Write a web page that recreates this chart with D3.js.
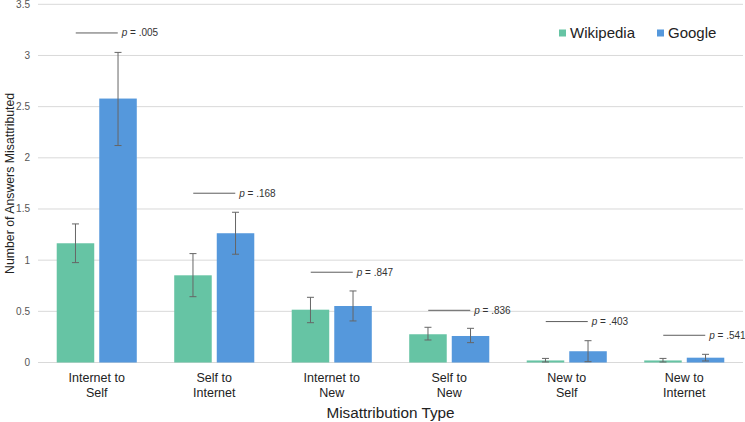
<!DOCTYPE html>
<html lang="en">
<head>
<meta charset="UTF-8">
<title>Misattribution by Type</title>
<script src="https://cdnjs.cloudflare.com/ajax/libs/d3/7.8.5/d3.min.js"></script>
<style>
    body { margin: 0; background: #fff; }
    svg { display: block; font-family: 'Liberation Sans', Arial, Helvetica, sans-serif; }
    .grid line { stroke: #d9d9d9; stroke-width: 1; }
    .tick-label { font-size: 10px; fill: #555; }
    .cat-label { font-size: 12.5px; fill: #222; }
    .err { stroke: #666; stroke-width: 1; }
    .pline { stroke: #333; stroke-width: 0.8; }
    .ptext { font-size: 10px; fill: #333; }
</style>
</head>
<body>
<svg id="chart" width="745" height="422"></svg>
<script>
    // categories (two-line labels)
    const categories = [
        ['Internet to', 'Self'],
        ['Self to', 'Internet'],
        ['Internet to', 'New'],
        ['Self to', 'New'],
        ['New to', 'Self'],
        ['New to', 'Internet']
    ];
    const seriesNames = ['Wikipedia', 'Google'];
    const seriesColors = ['#66c4a4', '#5598dc'];

    const wikipedia    = [1.165, 0.852, 0.516, 0.276, 0.02, 0.02];
    const wikipediaLo  = [0.976, 0.643, 0.389, 0.220, 0.005, 0.005];
    const wikipediaHi  = [1.354, 1.064, 0.637, 0.344, 0.040, 0.040];
    const google       = [2.579, 1.263, 0.552, 0.259, 0.11, 0.047];
    const googleLo     = [2.120, 1.058, 0.406, 0.194, 0.008, 0.015];
    const googleHi     = [3.030, 1.468, 0.699, 0.334, 0.213, 0.080];

    const pLabels = ['.005', '.168', '.847', '.836', '.403', '.541'];
    const pLevels = [3.22, 1.654, 0.882, 0.51, 0.40, 0.266];

    const yTicks = [0, 0.5, 1, 1.5, 2, 2.5, 3, 3.5];

    const svg = d3.select('#chart');
    const margin = { left: 38, right: 2, top: 4.3, bottom: 59.5 };
    const width = 745, height = 422;

    const x = d3.scaleBand()
        .domain(d3.range(categories.length))
        .range([margin.left, width - margin.right])
        .paddingInner(0).paddingOuter(0);

    const xs = d3.scaleBand()
        .domain(seriesNames)
        .range([0, x.bandwidth()])
        .paddingInner(0.118)
        .paddingOuter(0.44);

    const y = d3.scaleLinear()
        .domain([0, 3.5])
        .range([height - margin.bottom, margin.top]);

    // gridlines
    svg.append('g').attr('class', 'grid')
        .selectAll('line').data(yTicks).join('line')
        .attr('x1', margin.left).attr('x2', width - margin.right)
        .attr('y1', d => y(d)).attr('y2', d => y(d));

    // y tick labels
    svg.append('g').selectAll('text').data(yTicks).join('text')
        .attr('class', 'tick-label')
        .attr('x', 30).attr('y', d => y(d)).attr('dy', '0.35em')
        .attr('text-anchor', 'end')
        .text(d => d3.format('')(d));

    // y axis title
    svg.append('text')
        .attr('transform', `translate(13.5,${(y(0) + y(3.5)) / 2}) rotate(-90)`)
        .attr('text-anchor', 'middle')
        .attr('font-size', 12.3).attr('fill', '#222')
        .text('Number of Answers Misattributed');

    const series = [
        { name: 'Wikipedia', vals: wikipedia, lo: wikipediaLo, hi: wikipediaHi, color: seriesColors[0] },
        { name: 'Google', vals: google, lo: googleLo, hi: googleHi, color: seriesColors[1] }
    ];

    series.forEach(s => {
        const g = svg.append('g');
        const cx = i => x(i) + xs(s.name) + xs.bandwidth() / 2;
        g.selectAll('rect').data(s.vals).join('rect')
            .attr('x', (d, i) => x(i) + xs(s.name))
            .attr('width', xs.bandwidth())
            .attr('y', d => y(d))
            .attr('height', d => y(0) - y(d))
            .attr('fill', s.color);
        // error bars
        g.selectAll('line.v').data(s.vals).join('line')
            .attr('class', 'err v')
            .attr('x1', (d, i) => cx(i)).attr('x2', (d, i) => cx(i))
            .attr('y1', (d, i) => y(s.lo[i])).attr('y2', (d, i) => y(s.hi[i]));
        g.selectAll('line.hi').data(s.vals).join('line')
            .attr('class', 'err hi')
            .attr('x1', (d, i) => cx(i) - 3.5).attr('x2', (d, i) => cx(i) + 3.5)
            .attr('y1', (d, i) => y(s.hi[i])).attr('y2', (d, i) => y(s.hi[i]));
        g.selectAll('line.lo').data(s.vals).join('line')
            .attr('class', 'err lo')
            .attr('x1', (d, i) => cx(i) - 3.5).attr('x2', (d, i) => cx(i) + 3.5)
            .attr('y1', (d, i) => y(s.lo[i])).attr('y2', (d, i) => y(s.lo[i]));
    });

    // p-value annotations
    const pg = svg.append('g');
    pLabels.forEach((p, i) => {
        const c = x(i) + x.bandwidth() / 2;
        pg.append('line').attr('class', 'pline')
            .attr('x1', c - 21).attr('x2', c + 21)
            .attr('y1', y(pLevels[i])).attr('y2', y(pLevels[i]));
        const t = pg.append('text').attr('class', 'ptext')
            .attr('x', c + 25).attr('y', y(pLevels[i])).attr('dy', '0.35em');
        t.append('tspan').attr('font-style', 'italic').text('p');
        t.append('tspan').text(' = ' + p);
    });

    // category labels
    const cg = svg.append('g');
    categories.forEach((lines, i) => {
        const t = cg.append('text').attr('class', 'cat-label')
            .attr('text-anchor', 'middle')
            .attr('x', x(i) + x.bandwidth() / 2)
            .attr('y', 381.5);
        lines.forEach((ln, k) => {
            t.append('tspan')
                .attr('x', x(i) + x.bandwidth() / 2)
                .attr('dy', k === 0 ? 0 : 15)
                .text(ln);
        });
    });

    // x axis title
    svg.append('text')
        .attr('x', (margin.left + width - margin.right) / 2)
        .attr('y', 418)
        .attr('text-anchor', 'middle')
        .attr('font-size', 15.3).attr('fill', '#222')
        .text('Misattribution Type');

    // legend
    const legendX = [559, 657];
    const lg = svg.append('g');
    seriesNames.forEach((n, i) => {
        lg.append('rect')
            .attr('x', legendX[i]).attr('y', 29.5)
            .attr('width', 7).attr('height', 7)
            .attr('fill', seriesColors[i]);
        lg.append('text')
            .attr('x', legendX[i] + 11).attr('y', 33)
            .attr('dy', '0.35em')
            .attr('font-size', 15).attr('fill', '#222')
            .text(n);
    });
</script>
</body>
</html>
